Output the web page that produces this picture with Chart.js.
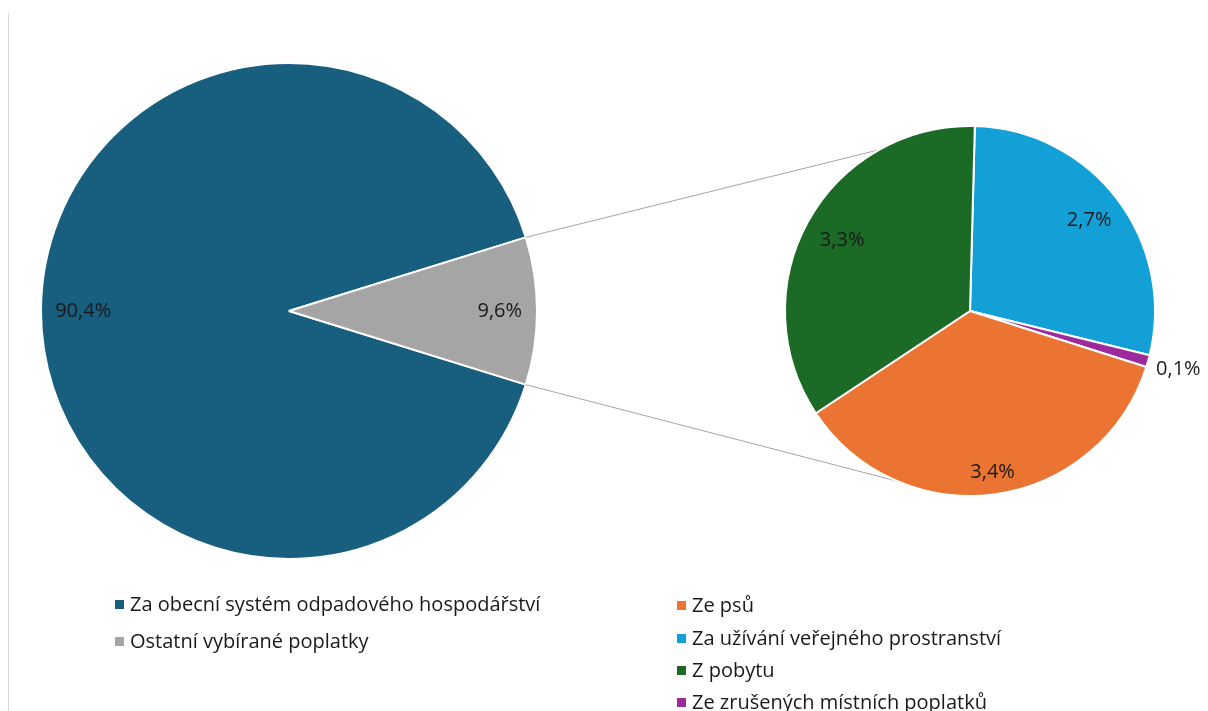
<!DOCTYPE html>
<html>
<head>
<meta charset="utf-8">
<script src="https://cdn.jsdelivr.net/npm/chart.js@4.4.0/dist/chart.umd.min.js"></script>
<style>
  html, body { margin: 0; padding: 0; background: #fff; }
  #wrap { position: relative; width: 1208px; height: 711px; overflow: hidden; font-family: "Open Sans", Lato, sans-serif; }
  #wrap canvas { position: absolute; left: 0; top: 0; }
  #edge { position: absolute; left: 8px; top: 13px; width: 1px; height: 698px; background: #d9d9d9; }
  .leg { position: absolute; font-size: 20px; color: #1a1a1a; white-space: nowrap; line-height: 22px; }
  .leg i { display: inline-block; width: 9px; height: 9px; margin-right: 6px; vertical-align: 2px; }
</style>
</head>
<body>
<div id="wrap">
  <div id="edge"></div>
  <canvas id="hlavni" width="1208" height="711"></canvas>
  <canvas id="detail" width="1208" height="711"></canvas>
  <div id="legenda"></div>
</div>
<script>
// hlavní koláč
const popiskyHlavni = ['Za obecní systém odpadového hospodářství', 'Ostatní vybírané poplatky'];
const hodnotyHlavni = [90.4, 9.6];
const barvyHlavni = ['#175e7f', '#a5a5a5'];

// rozpad ostatních poplatků (pořadí jako v legendě)
const popiskyDetail = ['Ze psů', 'Za užívání veřejného prostranství', 'Z pobytu', 'Ze zrušených místních poplatků'];
const hodnotyDetail = [3.4, 2.7, 3.3, 0.1];
const barvyDetail = ['#eb7433', '#12a0d7', '#1b6a26', '#9c2a9c'];

// pořadí výsečí po směru hodinek od vrchu
const poradiDetail = [1, 3, 0, 2];

const formatProcent = v => v.toFixed(1).replace('.', ',') + '%';

// popisky dat uvnitř výsečí
function popiskyPlugin(id, polomery) {
  return {
    id: id,
    afterDatasetsDraw(chart) {
      const ctx = chart.ctx;
      const meta = chart.getDatasetMeta(0);
      const data = chart.data.datasets[0].data;
      ctx.save();
      ctx.font = '20px "Open Sans", Lato, sans-serif';
      ctx.fillStyle = '#1a1a1a';
      ctx.textAlign = 'center';
      ctx.textBaseline = 'middle';
      meta.data.forEach((arc, i) => {
        const p = arc.getProps(['x', 'y', 'startAngle', 'endAngle', 'outerRadius'], true);
        const a = (p.startAngle + p.endAngle) / 2;
        const r = p.outerRadius * polomery[i];
        ctx.fillText(formatProcent(data[i]), p.x + Math.cos(a) * r, p.y + Math.sin(a) * r);
      });
      ctx.restore();
    }
  };
}

const hlavni = new Chart(document.getElementById('hlavni'), {
  type: 'pie',
  data: {
    labels: popiskyHlavni,
    datasets: [{
      data: hodnotyHlavni,
      backgroundColor: barvyHlavni,
      borderColor: '#ffffff',
      borderWidth: 2
    }]
  },
  options: {
    responsive: false,
    animation: false,
    rotation: 90 + hodnotyHlavni[1] / 100 * 180,
    layout: { padding: { left: 40, right: 670, top: 62, bottom: 151 } },
    plugins: { legend: { display: false }, tooltip: { enabled: false } }
  },
  plugins: [popiskyPlugin('popiskyHlavni', [0.83, 0.85])]
});

// spojnice mezi koláči
const spojnice = {
  id: 'spojnice',
  beforeDatasetsDraw(chart) {
    const sed = hlavni.getDatasetMeta(0).data[1].getProps(['x', 'y', 'startAngle', 'endAngle', 'outerRadius'], true);
    const det = chart.getDatasetMeta(0).data[0].getProps(['x', 'y', 'startAngle', 'outerRadius'], true);
    const dolniUhel = 113 * Math.PI / 180;
    const ctx = chart.ctx;
    ctx.save();
    ctx.strokeStyle = '#a6a6a6';
    ctx.lineWidth = 1;
    ctx.beginPath();
    ctx.moveTo(sed.x + Math.cos(sed.startAngle) * sed.outerRadius, sed.y + Math.sin(sed.startAngle) * sed.outerRadius);
    ctx.lineTo(det.x + Math.cos(det.startAngle) * det.outerRadius, det.y + Math.sin(det.startAngle) * det.outerRadius);
    ctx.moveTo(sed.x + Math.cos(sed.endAngle) * sed.outerRadius, sed.y + Math.sin(sed.endAngle) * sed.outerRadius);
    ctx.lineTo(det.x + Math.cos(dolniUhel) * det.outerRadius, det.y + Math.sin(dolniUhel) * det.outerRadius);
    ctx.stroke();
    ctx.restore();
  }
};

new Chart(document.getElementById('detail'), {
  type: 'pie',
  data: {
    labels: poradiDetail.map(i => popiskyDetail[i]),
    datasets: [{
      data: poradiDetail.map(i => hodnotyDetail[i]),
      backgroundColor: poradiDetail.map(i => barvyDetail[i]),
      borderColor: '#ffffff',
      borderWidth: 2
    }]
  },
  options: {
    responsive: false,
    animation: false,
    rotation: 1.5,
    layout: { padding: { left: 784, right: 52, top: 125, bottom: 214 } },
    plugins: { legend: { display: false }, tooltip: { enabled: false } }
  },
  plugins: [spojnice, popiskyPlugin('popiskyDetail', [0.81, 1.17, 0.88, 0.79])]
});

// legenda
const legenda = document.getElementById('legenda');
function polozka(text, barva, x, y) {
  const d = document.createElement('div');
  d.className = 'leg';
  d.style.left = x + 'px';
  d.style.top = (y - 11) + 'px';
  d.innerHTML = `<i style="background:${barva}"></i>${text}`;
  legenda.appendChild(d);
}
const radkyVlevo = [604, 641];
popiskyHlavni.forEach((t, i) => polozka(t, barvyHlavni[i], 115, radkyVlevo[i]));
const radkyVpravo = [605, 638, 670, 702];
popiskyDetail.forEach((t, i) => polozka(t, barvyDetail[i], 677, radkyVpravo[i]));
</script>
</body>
</html>
